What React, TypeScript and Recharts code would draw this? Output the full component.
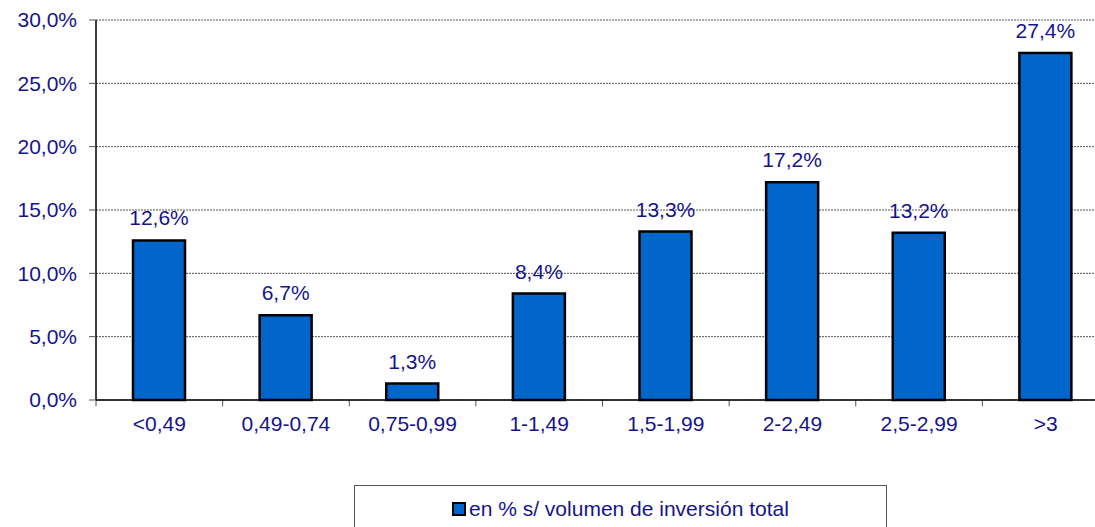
import React from 'react';
import { BarChart, Bar, XAxis, YAxis, CartesianGrid, LabelList, ReferenceLine } from 'recharts';

const categories = ['<0,49', '0,49-0,74', '0,75-0,99', '1-1,49', '1,5-1,99', '2-2,49', '2,5-2,99', '>3'];
const values = [12.6, 6.7, 1.3, 8.4, 13.3, 17.2, 13.2, 27.4];
const yTicks = [0, 5, 10, 15, 20, 25, 30];
const seriesName = 'en % s/ volumen de inversión total';

const data = categories.map((c, i) => ({ cat: c, v: values[i] }));

const TEXT = '#14148c';
const FONT = '"Liberation Sans", Arial, sans-serif';
const fmt = (v: number) => v.toFixed(1).replace('.', ',') + '%';

const LegendBox = () => (
  <div
    style={{
      position: 'absolute',
      left: 354,
      top: 485,
      width: 533,
      height: 60,
      border: '1px solid #555',
      boxSizing: 'border-box',
      background: '#fff',
    }}
  >
    <div
      style={{
        position: 'absolute',
        left: 97,
        top: 11,
        display: 'flex',
        alignItems: 'center',
        fontFamily: FONT,
        fontSize: 21,
        color: TEXT,
        whiteSpace: 'nowrap',
      }}
    >
      <span
        style={{
          display: 'inline-block',
          width: 10,
          height: 10,
          background: '#0066cc',
          border: '2px solid #000',
          marginRight: 3,
        }}
      />
      {seriesName}
    </div>
  </div>
);

export default function App() {
  return (
    <div style={{ position: 'fixed', left: 0, top: 0, width: 1095, height: 527, overflow: 'hidden', background: '#fff' }}>
      <BarChart
        width={1115}
        height={560}
        data={data}
        margin={{ top: 20, right: 6, bottom: 130, left: 0 }}
        barSize={52}
      >
        <CartesianGrid horizontal vertical={false} stroke="#555" strokeDasharray="2 1" />
        <XAxis
          dataKey="cat"
          height={30}
          tickLine={false}
          tickSize={6}
          tickMargin={10}
          axisLine={{ stroke: '#000', strokeWidth: 1.5 }}
          tick={{ fill: TEXT, fontSize: 21, fontFamily: FONT }}
          interval={0}
        />
        <YAxis
          width={96}
          domain={[0, 30]}
          ticks={yTicks}
          tickFormatter={fmt}
          tickSize={7}
          tickMargin={12}
          axisLine={{ stroke: '#000', strokeWidth: 1.5 }}
          tickLine={{ stroke: '#555' }}
          tick={{ fill: TEXT, fontSize: 21, fontFamily: FONT }}
        />
        {categories.map((c) => (
          <ReferenceLine
            key={c}
            segment={[{ x: c, y: 0 }, { x: c, y: -0.5 }]}
            position="start"
            stroke="#555"
            ifOverflow="visible"
          />
        ))}
        <Bar dataKey="v" name={seriesName} fill="#0066cc" stroke="#000" strokeWidth={2.5} isAnimationActive={false}>
          <LabelList
            dataKey="v"
            position="top"
            offset={15}
            formatter={(v: any) => fmt(Number(v))}
            style={{ fill: TEXT, fontSize: 21, fontFamily: FONT }}
          />
        </Bar>
      </BarChart>
      <LegendBox />
    </div>
  );
}
